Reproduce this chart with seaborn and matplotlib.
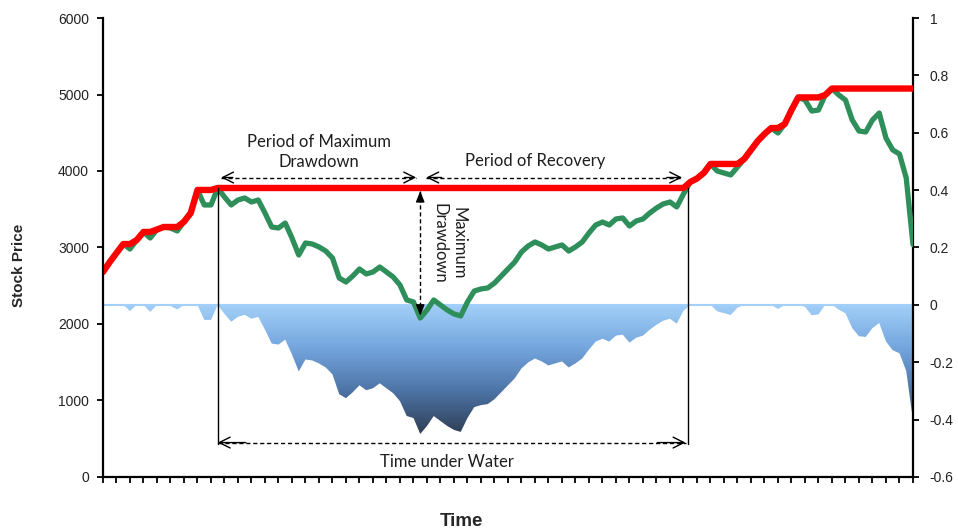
import numpy as np
import matplotlib
matplotlib.use("Agg")
import matplotlib.pyplot as plt
import seaborn as sns
from matplotlib.colors import LinearSegmentedColormap

# -----------------------------
# data (two points per x tick)
# -----------------------------
price = [2680, 2810, 2928, 3045, 2980, 3098, 3203, 3124, 3235, 3268,
         3255, 3216, 3337, 3451, 3752, 3556, 3556, 3778, 3660, 3556,
         3621, 3647, 3595, 3621, 3451, 3268, 3255, 3320, 3124, 2902,
         3059, 3046, 3007, 2954, 2863, 2601, 2549, 2627, 2719, 2654,
         2680, 2745, 2680, 2614, 2510, 2314, 2288, 2078, 2183, 2314,
         2248, 2183, 2131, 2105, 2288, 2431, 2458, 2471, 2536, 2627,
         2719, 2810, 2941, 3020, 3072, 3033, 2980, 3007, 3033, 2954,
         3007, 3072, 3190, 3294, 3333, 3294, 3373, 3386, 3281, 3346,
         3373, 3451, 3516, 3569, 3595, 3530, 3699, 3856, 3902, 3974,
         4092, 4000, 3974, 3948, 4052, 4157, 4275, 4392, 4484, 4562,
         4497, 4614, 4797, 4962, 4928, 4784, 4797, 4994, 5078, 4994,
         4928, 4667, 4523, 4510, 4667, 4758, 4431, 4275, 4222, 3909,
         3040]
left_ticks = [0, 1000, 2000, 3000, 4000, 5000, 6000]
right_ticks = [-0.6, -0.4, -0.2, 0, 0.2, 0.4, 0.6, 0.8, 1]

price = np.array(price, dtype=float)
t = np.arange(len(price))
peak = np.maximum.accumulate(price)
drawdown = price / peak - 1

trough = int(np.argmin(drawdown))
peak_idx = int(np.argmax(price[:trough + 1]))
recovery = trough + int(np.argmax(price[trough:] >= price[peak_idx]))

# -----------------------------
# figure
# -----------------------------
sns.set_style("ticks")
plt.rcParams['font.family'] = ['Liberation Sans', 'DejaVu Sans']

fig = plt.figure(figsize=(9.58, 5.31), dpi=100)
ax = fig.add_axes([0.1075, 0.1017, 0.8455, 0.8644])
ax2 = ax.twinx()

# underwater area with vertical gradient
poly = ax2.fill_between(t, drawdown, 0, facecolor='none', edgecolor='none')
cmap = LinearSegmentedColormap.from_list('water', ['#a3d0f8', '#74a6de', '#4d74a6', '#2f3f55'])
grad = np.linspace(0, 1, 256).reshape(-1, 1)
img = ax2.imshow(grad, cmap=cmap, aspect='auto', origin='upper',
                 extent=[t[0], t[-1], drawdown.min(), 0], zorder=1)
img.set_clip_path(poly.get_paths()[0], transform=ax2.transData)
ax2.axhline(0, color='#a3d0f8', lw=1.5, zorder=2)

ax2.set_ylim(-0.6, 1)
ax2.set_yticks(right_ticks)
ax2.set_yticklabels([f"{v:g}" for v in right_ticks])

# price and running peak
sns.lineplot(x=t, y=price, ax=ax, color='#2f8f5b', lw=3.8,
             solid_joinstyle='round', solid_capstyle='round')
sns.lineplot(x=t, y=peak, ax=ax, color='#ff0000', lw=4.6,
             solid_joinstyle='round', solid_capstyle='round')

ax.set_zorder(ax2.get_zorder() + 1)
ax.patch.set_visible(False)

ax.set_xlim(t[0], t[-1])
ax2.set_xlim(t[0], t[-1])
ax.set_ylim(0, 6000)
ax.set_yticks(left_ticks)
ax.set_xticks(t[::2])
ax.set_xticklabels([])

for s in ['top', 'right']:
    ax.spines[s].set_visible(False)
for s in ['top', 'left', 'bottom']:
    ax2.spines[s].set_visible(False)
for sp in [ax.spines['left'], ax.spines['bottom'], ax2.spines['right']]:
    sp.set_color('black')
    sp.set_linewidth(1.6)

ax.tick_params(axis='x', direction='out', length=4, width=1.3, color='black')
ax.tick_params(axis='y', direction='out', length=4, width=1.3, color='black',
               labelsize=10, labelcolor='#222222', pad=6)
ax2.tick_params(axis='y', direction='out', length=4, width=1.3, color='black',
                labelsize=10, labelcolor='#222222', pad=8)

ax.set_xlabel("Time", fontsize=13.5, fontweight='bold')
ax.xaxis.set_label_coords(0.443, -0.078)
ax.set_ylabel("Stock Price", fontsize=11, fontweight='bold')
ax.yaxis.set_label_coords(-0.095, 0.46)

# -----------------------------
# annotations
# -----------------------------
note_font = dict(family=['Lato', 'DejaVu Sans'], fontsize=12, color='#1e1e1e')


def dashed_arrow(x0, y0, x1, y1, head):
    ax.plot([x0, x1], [y0, y1], color='black', lw=1, ls=(0, (3, 2)))
    for xa, ya, xb, yb in [(x0, y0, x1, y1), (x1, y1, x0, y0)]:
        ax.annotate('', xy=(xa, ya), xytext=(xa + (xb - xa) * 0.06, ya + (yb - ya) * 0.06),
                    arrowprops=dict(arrowstyle=head, color='black', lw=1,
                                    shrinkA=0, shrinkB=0, mutation_scale=13))


top_y = 3915
dashed_arrow(peak_idx + 0.5, top_y, trough - 0.6, top_y, '->, head_length=0.6, head_width=0.3')
dashed_arrow(trough + 0.9, top_y, recovery - 1.2, top_y, '->, head_length=0.6, head_width=0.3')
dashed_arrow(trough, price[peak_idx] - 40, trough, price[trough] + 30, '-|>, head_length=0.5, head_width=0.2')

ax.plot([peak_idx, peak_idx], [price[peak_idx], 430], color='black', lw=1)
ax.plot([recovery - 0.4, recovery - 0.4], [price[peak_idx], 430], color='black', lw=1)
dashed_arrow(peak_idx, 450, recovery - 0.7, 450, '->, head_length=0.6, head_width=0.3')

ax.text((peak_idx + trough) / 2, 4250, "Period of Maximum\nDrawdown", ha='center', va='center',
        linespacing=1.35, **note_font)
ax.text(64, 4130, "Period of Recovery", ha='center', va='center', **note_font)
ax.text(trough + 4.3, 3060, "Maximum\nDrawdown", ha='center', va='center', rotation=270,
        linespacing=1.2, **note_font)
ax.text(51, 200, "Time under Water", ha='center', va='center', **note_font)

fig.savefig("out.png", dpi=100)
